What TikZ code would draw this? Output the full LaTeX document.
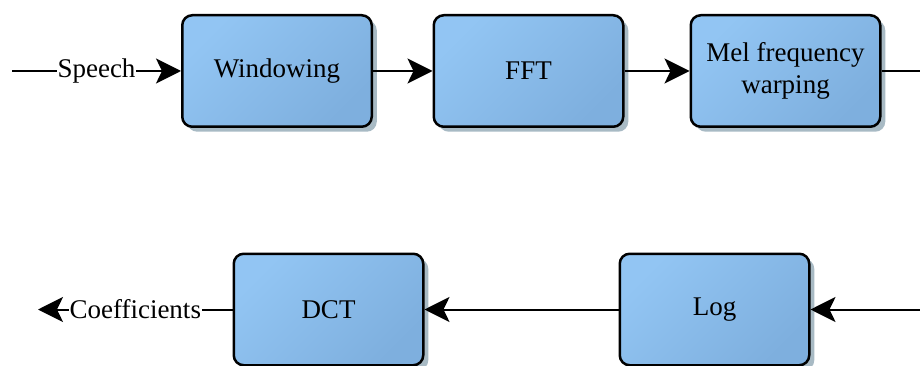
\documentclass[tikz,border=0pt]{standalone}
\usepackage{fontspec}
\setmainfont{Liberation Serif}
\usetikzlibrary{arrows.meta,shadows}
\definecolor{boxA}{HTML}{92C5F3}
\definecolor{boxB}{HTML}{7EAFDE}
\definecolor{shad}{HTML}{A8BAC4}
\begin{document}
\begin{tikzpicture}[x=1pt,y=-1pt, font=\fontsize{27}{32}\selectfont,
  blk/.style={draw=black, line width=2.5pt, rounded corners=10pt,
    minimum width=189.5pt, minimum height=111.5pt,
    top color=boxA, bottom color=boxB, shading angle=45,
    drop shadow={shadow xshift=5pt, shadow yshift=-5pt, fill=shad, opacity=1},
    align=center, inner sep=0pt},
  conn/.style={line width=2pt},
  tip/.style={-{Stealth[length=25pt,width=25pt,inset=6pt]}},
  lbl/.style={fill=white, inner sep=1pt}]
\useasboundingbox (0,0) rectangle (920,366);
\clip (0,0) rectangle (920,366);
\node[blk] (win) at (277,71) {Windowing};
\node[blk] (fft) at (528.5,71) {FFT};
\node[blk] (mel) at (785.5,71) {Mel frequency\\warping};
\node[blk] (dct) at (328.5,309.5) {DCT};
\node[blk] (log) at (714.5,309.5) {Log};
\coordinate (sin) at (12,71);
\coordinate (cout) at (38,309.5);
\coordinate (rt) at (930,71);
\coordinate (rb) at (930,309.5);
\draw[conn,tip] (sin) -- node[lbl]{Speech} (win);
\draw[conn,tip] (win) -- (fft);
\draw[conn,tip] (fft) -- (mel);
\draw[conn] (mel) -- (rt);
\draw[conn,tip] (rb) -- (log);
\draw[conn,tip] (log) -- (dct);
\draw[conn,tip] (dct) -- node[lbl]{Coefficients} (cout);
\end{tikzpicture}
\end{document}
